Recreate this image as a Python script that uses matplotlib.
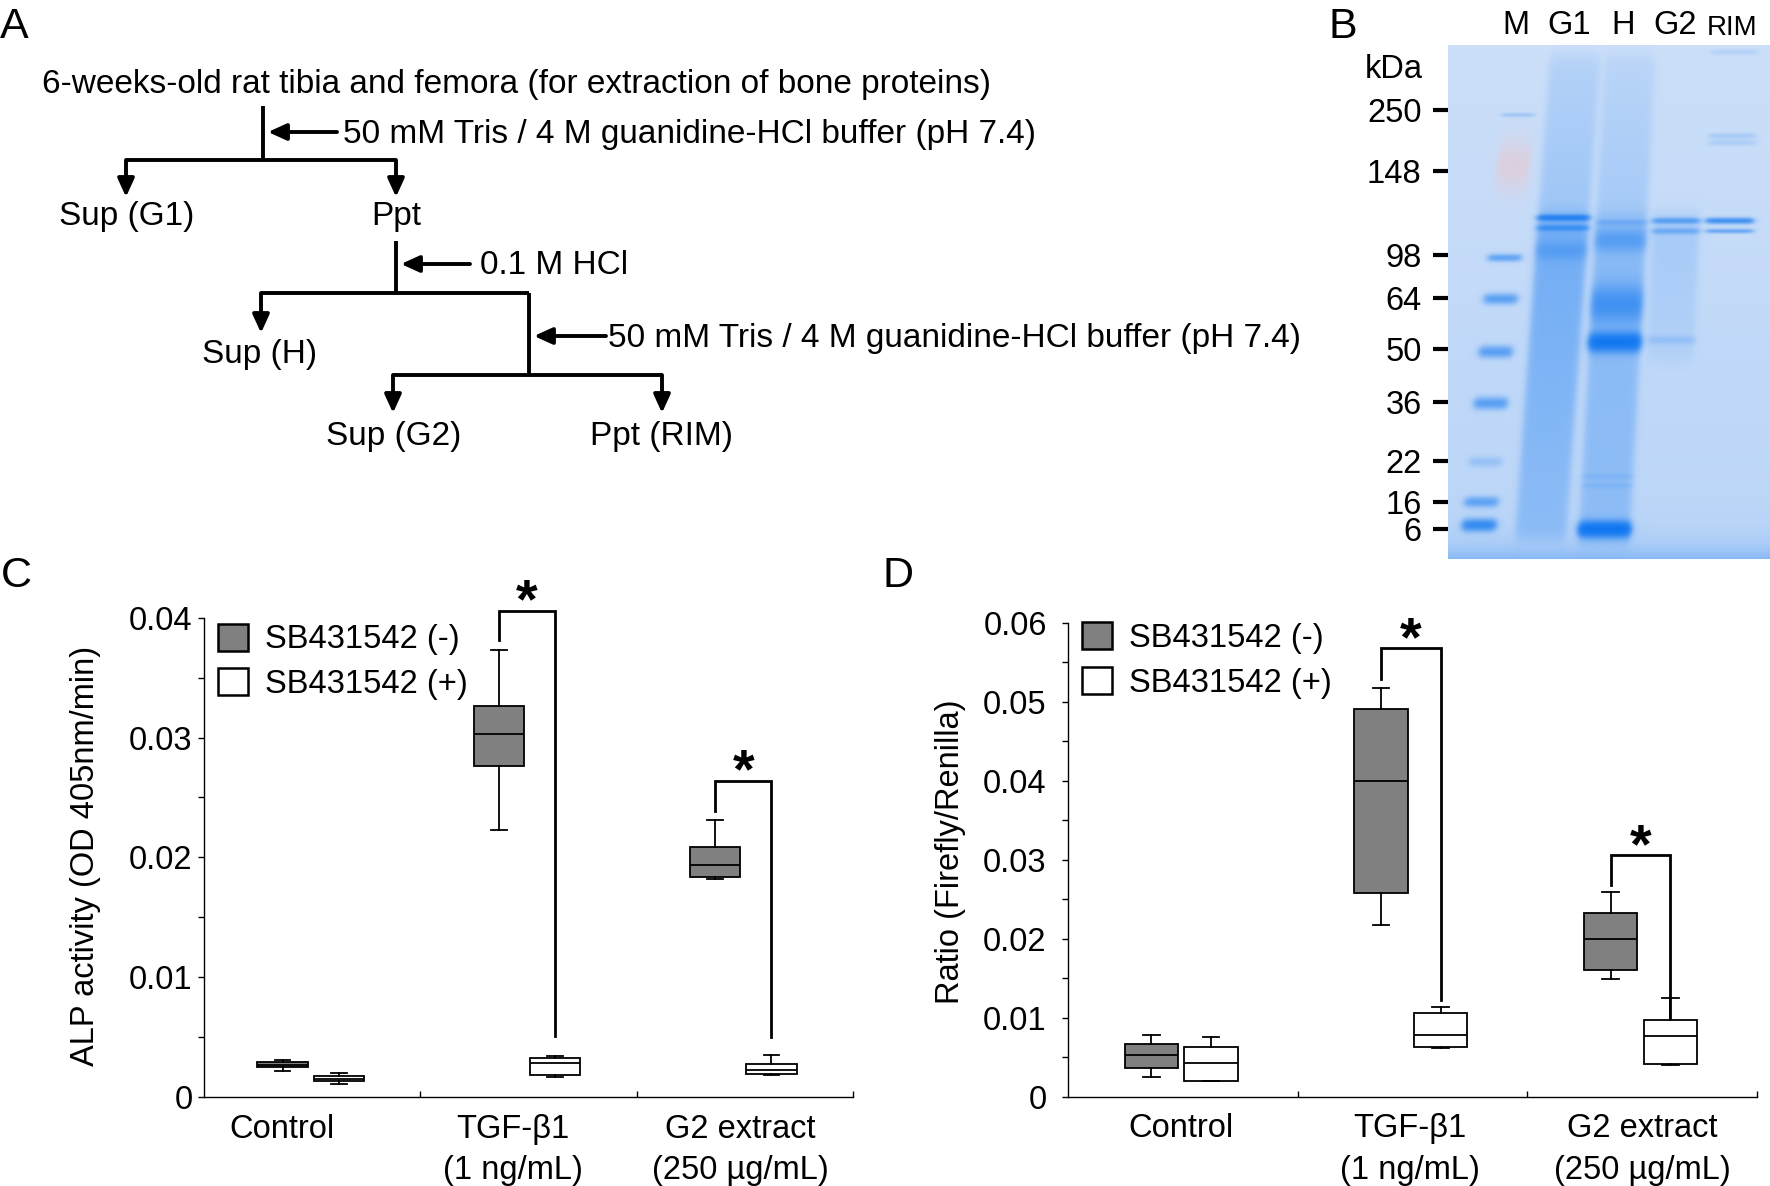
import matplotlib
matplotlib.use('Agg')
import matplotlib.pyplot as plt
import numpy as np
from matplotlib.patches import Patch

plt.rcParams['font.family'] = ['Liberation Sans', 'DejaVu Sans']

# ---- box plot data: [whislo, q1, median, q3, whishi] per group ----
groups = ['Control', 'TGF-β1\n(1 ng/mL)', 'G2 extract\n(250 µg/mL)']
series = ['SB431542 (-)', 'SB431542 (+)']

alp_neg = [[0.0022, 0.0025, 0.0027, 0.00296, 0.0031],
           [0.0223, 0.0276, 0.0303, 0.0326, 0.0373],
           [0.0182, 0.0184, 0.0194, 0.0209, 0.0231]]
alp_pos = [[0.00106, 0.0013, 0.00153, 0.00173, 0.0020],
           [0.0017, 0.00183, 0.0028, 0.00329, 0.00346],
           [0.0018, 0.0019, 0.00223, 0.00273, 0.0035]]
# significance: group, start, top, end
alp_sig = [(1, 0.0381, 0.0406, 0.0051), (2, 0.0239, 0.0264, 0.0050)]
alp_ticks = [0, 0.01, 0.02, 0.03, 0.04]
alp_ticklabels = ['0', '0.01', '0.02', '0.03', '0.04']

ratio_neg = [[0.00253, 0.00358, 0.00527, 0.00667, 0.00776],
             [0.0217, 0.02582, 0.0400, 0.04904, 0.05177],
             [0.01494, 0.0160, 0.01996, 0.02329, 0.02591]]
ratio_pos = [[0.0020, 0.00203, 0.00426, 0.00625, 0.00752],
             [0.00612, 0.00633, 0.00777, 0.01055, 0.01135],
             [0.0040, 0.00409, 0.00768, 0.00975, 0.01253]]
ratio_sig = [(1, 0.0529, 0.0568, 0.0123), (2, 0.0268, 0.0306, 0.0100)]
ratio_ticks = [0, 0.01, 0.02, 0.03, 0.04, 0.05, 0.06]
ratio_ticklabels = ['0', '0.01', '0.02', '0.03', '0.04', '0.05', '0.06']

# ---- gel data (relative migration, 0 = top of gel) ----
lanes = ['M', 'G1', 'H', 'G2', 'RIM']
marker_kda = ['250', '148', '98', '64', '50', '36', '22', '16', '6']
marker_rf = [0.126, 0.245, 0.409, 0.492, 0.591, 0.694, 0.809, 0.889, 0.942]
# lane, rf, strength, sigma
gel_bands = [(0, 0.136, 0.15, 0.003), (0, 0.414, 0.45, 0.005), (0, 0.494, 0.5, 0.007),
             (0, 0.597, 0.5, 0.008), (0, 0.697, 0.5, 0.008), (0, 0.811, 0.15, 0.007),
             (0, 0.889, 0.45, 0.007), (0, 0.934, 0.8, 0.008),
             (1, 0.336, 0.8, 0.004), (1, 0.356, 0.45, 0.004), (1, 0.40, 0.2, 0.012),
             (2, 0.345, 0.15, 0.004), (2, 0.38, 0.3, 0.015), (2, 0.505, 0.5, 0.025),
             (2, 0.578, 1.3, 0.012), (2, 0.84, 0.07, 0.004),
             (2, 0.857, 0.07, 0.004), (2, 0.942, 1.4, 0.01),
             (3, 0.342, 0.45, 0.004), (3, 0.362, 0.3, 0.004), (3, 0.574, 0.12, 0.006),
             (4, 0.342, 0.7, 0.004), (4, 0.362, 0.4, 0.003), (4, 0.177, 0.12, 0.004),
             (4, 0.19, 0.1, 0.004), (4, 0.014, 0.08, 0.004)]
# lane, rf start, rf end, strength start, strength end
gel_smears = [(1, 0.02, 0.33, 0.08, 0.15), (1, 0.33, 0.96, 0.38, 0.18),
              (2, 0.02, 0.33, 0.06, 0.12), (2, 0.33, 0.97, 0.25, 0.18),
              (3, 0.33, 0.62, 0.12, 0.05)]

GRAY = '#808080'
FS = 23.5
FS_A = 24


def draw_gel(ax):
    h, w = 514, 322
    rf = (np.arange(h) + 0.5)[:, None] / h
    x = (np.arange(w) + 0.5)[None, :]
    lane_x0 = [77, 128, 183, 235, 287]
    lane_slant = [-49, -37, -28, -20, -15]
    lane_half = [16, 25, 25, 23, 23]

    def lane_mask(i):
        c = lane_x0[i] + lane_slant[i] * rf
        return 1 / (1 + np.exp((np.abs(x - c) - lane_half[i]) / 2.0))

    blue = 0.06 * rf + np.zeros((h, w))
    for lane, r0, s, sig in gel_bands:
        blue = blue + s * np.exp(-0.5 * ((rf - r0) / sig) ** 2) * lane_mask(lane)
    for lane, r0, r1, s0, s1 in gel_smears:
        ramp = s0 + (s1 - s0) * np.clip((rf - r0) / (r1 - r0), 0, 1)
        inside = 1 / (1 + np.exp(-(rf - r0) / 0.008)) / (1 + np.exp((rf - r1) / 0.008))
        blue = blue + ramp * inside * lane_mask(lane)
    blue = blue + 0.22 * np.exp(-(1 - rf) / 0.025)
    red = 0.6 * np.exp(-0.5 * ((rf - 0.235) / 0.035) ** 2) * lane_mask(0)

    t = 1 - np.exp(-1.5 * blue)
    bg = np.array([0.80, 0.875, 0.975])
    stain = np.array([0.0, 0.43, 0.94])
    rgb = bg * (1 - t[..., None]) + stain * t[..., None]
    rgb = rgb * (1 - red[..., None]) + np.array([0.92, 0.78, 0.80]) * red[..., None]
    ax.imshow(rgb, extent=[0, w, 1, 0], aspect='auto', interpolation='bilinear')
    ax.set_xlim(0, w)
    ax.set_ylim(1, 0)
    for s in ax.spines.values():
        s.set_visible(False)
    ax.set_yticks(marker_rf)
    ax.set_yticklabels(marker_kda)
    ax.tick_params(axis='y', length=11, width=3, pad=8, labelsize=FS)
    ax.xaxis.tick_top()
    ax.set_xticks([68, 121, 175, 227, 284])
    ax.set_xticklabels(lanes)
    ax.tick_params(axis='x', length=0, pad=3, labelsize=FS)
    ax.get_xticklabels()[-1].set_fontsize(20)


def box_panel(ax, neg, pos, sig, ticks, ticklabels, ylabel, ylabel_x, ylabel_y,
              label_x, ypad, leg_y):
    off_neg, off_pos, bw = -0.137, 0.123, 0.232
    for data, off, color in [(neg, off_neg, GRAY), (pos, off_pos, 'white')]:
        stats = [dict(whislo=d[0], q1=d[1], med=d[2], q3=d[3], whishi=d[4]) for d in data]
        ax.bxp(stats, positions=[i + off for i in range(len(data))], widths=bw,
               patch_artist=True, showfliers=False, manage_ticks=False, capwidths=0.072,
               boxprops=dict(facecolor=color, edgecolor='k', linewidth=1.3),
               medianprops=dict(color='k', linewidth=1.3),
               whiskerprops=dict(color='k', linewidth=1.3),
               capprops=dict(color='k', linewidth=1.3))
    for g, start, top, end in sig:
        xl, xr = g + off_neg, g + off_pos
        ax.plot([xl, xl, xr, xr], [start, top, top, end], color='k', lw=2,
                clip_on=False, solid_joinstyle='miter')
        ax.annotate('*', xy=((xl + xr) / 2, top), xytext=(0, 5), textcoords='offset points',
                    ha='center', va='center', fontsize=40, fontweight='bold',
                    annotation_clip=False)
    ax.set_xlim(-0.5, 2.5)
    ax.set_ylim(ticks[0], ticks[-1])
    for s in ['top', 'right']:
        ax.spines[s].set_visible(False)
    for s in ['left', 'bottom']:
        ax.spines[s].set_linewidth(1.0)
    ax.set_yticks(ticks)
    ax.set_yticklabels(ticklabels)
    ax.set_yticks([(a + b) / 2 for a, b in zip(ticks[:-1], ticks[1:])], minor=True)
    ax.tick_params(axis='y', which='both', direction='out', length=4.3, width=1,
                   labelsize=FS, pad=ypad)
    ax.set_xticks(label_x)
    ax.set_xticklabels(groups)
    ax.set_xticks([0.5, 1.5, 2.5], minor=True)
    ax.tick_params(axis='x', which='major', length=0, labelsize=FS, pad=12)
    ax.tick_params(axis='x', which='minor', direction='in', length=4.3, width=1)
    for t in ax.get_xticklabels():
        t.set_linespacing(1.45)
    ax.text(ylabel_x, ylabel_y, ylabel, rotation=90, ha='center', va='center',
            fontsize=FS, transform=ax.transAxes)
    handles = [Patch(facecolor=GRAY, edgecolor='k', linewidth=1.8),
               Patch(facecolor='white', edgecolor='k', linewidth=1.8)]
    ax.legend(handles=handles, labels=series, loc='upper left', bbox_to_anchor=leg_y,
              frameon=False, fontsize=FS, handlelength=0.92, handleheight=0.9,
              handletextpad=0.52, labelspacing=0.39, borderpad=0, borderaxespad=0)


fig = plt.figure(figsize=(17.7, 11.86), dpi=100)

# ---- panel A: extraction scheme (pixel coordinates) ----
ax0 = fig.add_axes([0, 0, 1, 1])
ax0.set_xlim(0, 1770)
ax0.set_ylim(1186, 0)
ax0.axis('off')


def line(xs, ys):
    ax0.plot(xs, ys, color='k', lw=2.8, solid_capstyle='butt')


def arrow(x0, y0, x1, y1):
    ax0.annotate('', xy=(x1, y1), xytext=(x0, y0),
                 arrowprops=dict(arrowstyle='-|>,head_length=0.55,head_width=0.25',
                                 color='k', lw=2.8, shrinkA=0, shrinkB=0, mutation_scale=20))


def label(x, y, s, ha='center'):
    ax0.text(x, y, s, fontsize=FS_A, ha=ha, va='center')


label(42, 84, '6-weeks-old rat tibia and femora (for extraction of bone proteins)', ha='left')
line([263, 263], [106, 160])
arrow(337, 132, 268, 132)
label(343, 134, '50 mM Tris / 4 M guanidine-HCl buffer (pH 7.4)', ha='left')
line([126, 396], [160, 160])
arrow(126, 160, 126, 197)
arrow(396, 160, 396, 197)
label(127, 217, 'Sup (G1)')
label(396, 217, 'Ppt')
line([396, 396], [241, 293])
arrow(470, 264, 401, 264)
label(480, 266, '0.1 M HCl', ha='left')
line([261, 529], [293, 293])
arrow(261, 293, 261, 333)
label(260, 354, 'Sup (H)')
line([529, 529], [293, 375])
arrow(606, 336, 534, 336)
label(608, 338, '50 mM Tris / 4 M guanidine-HCl buffer (pH 7.4)', ha='left')
line([393, 662], [375, 375])
arrow(393, 375, 393, 413)
arrow(662, 375, 662, 413)
label(394, 436, 'Sup (G2)')
label(662, 436, 'Ppt (RIM)')

for letter, lx, ly in [('A', 0, 7), ('B', 1328, 7), ('C', 1, 556), ('D', 883, 556)]:
    ax0.text(lx, ly, letter, fontsize=31, ha='left', va='top')
ax0.text(1394, 70, 'kDa', fontsize=FS, ha='center', va='center')

# ---- panel B: gel ----
ax_gel = fig.add_axes([1448 / 1770, 1 - 559 / 1186, 322 / 1770, 514 / 1186])
draw_gel(ax_gel)

# ---- panel C ----
axc = fig.add_axes([204 / 1770, 1 - 1097 / 1186, 649 / 1770, 479.3 / 1186])
box_panel(axc, alp_neg, alp_pos, alp_sig, alp_ticks, alp_ticklabels,
          'ALP activity (OD 405nm/min)', -0.182, 0.503, [-0.14, 0.93, 1.98], 4,
          (0.0216, 0.9875))

# ---- panel D ----
axd = fig.add_axes([1068 / 1770, 1 - 1096.7 / 1186, 689 / 1770, 474 / 1186])
box_panel(axd, ratio_neg, ratio_pos, ratio_sig, ratio_ticks, ratio_ticklabels,
          'Ratio (Firefly/Renilla)', -0.170, 0.516, [-0.01, 0.99, 2.0], 11,
          (0.0203, 1.001))

fig.savefig('out.png', dpi=100)
